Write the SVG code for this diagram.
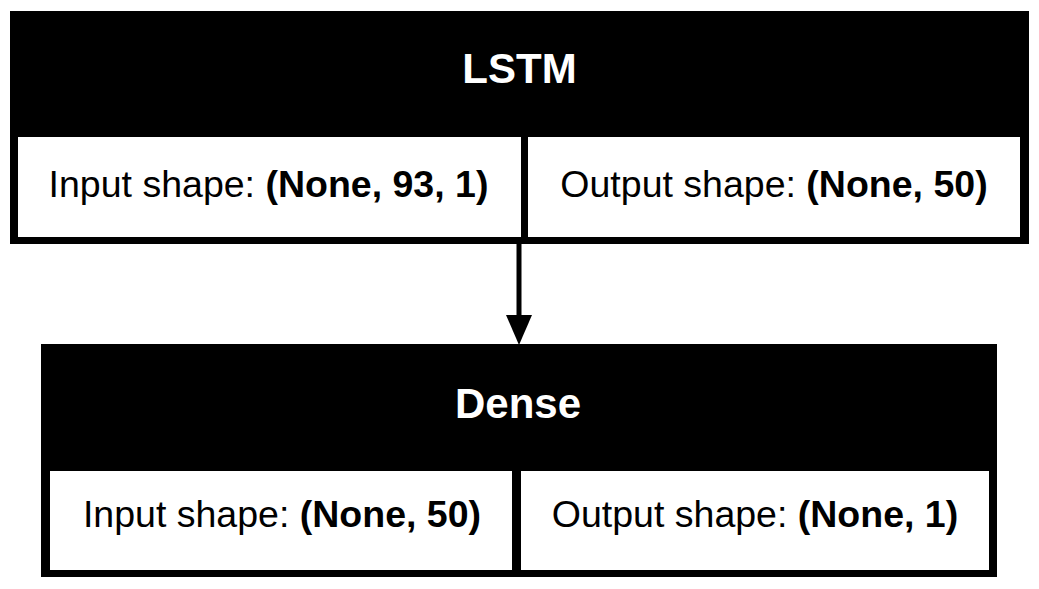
<svg xmlns="http://www.w3.org/2000/svg" width="1039" height="589" viewBox="0 0 1039 589">
<style>
.frame{fill:#000}
.cell{fill:#fff}
.title{font-family:"Liberation Sans",Arial,sans-serif;font-size:42px;font-weight:bold;fill:#fff;text-anchor:middle}
.lbl{font-family:"Liberation Sans",Arial,sans-serif;font-size:37.5px;fill:#000;text-anchor:middle}
.b{font-weight:bold}
.edge{stroke:#000;stroke-width:5;fill:none}
</style>
<rect width="1039" height="589" fill="#fff"/>
<g id="connectors">
<line class="edge" x1="519" y1="244" x2="519" y2="318"/>
<polygon points="506,315 532,315 519,345" fill="#000"/>
</g>
<g id="node-lstm">
<rect class="frame" x="10" y="11" width="1019" height="233"/>
<text class="title" x="519.5" y="83">LSTM</text>
<rect class="cell" x="18" y="137" width="503" height="100"/>
<rect class="cell" x="528" y="137" width="492" height="100"/>
<text class="lbl" x="268.5" y="197">Input shape: <tspan class="b">(None, 93, 1)</tspan></text>
<text class="lbl" x="774" y="197">Output shape: <tspan class="b">(None, 50)</tspan></text>
</g>
<g id="node-dense">
<rect class="frame" x="41" y="344" width="956" height="233"/>
<text class="title" x="518" y="418">Dense</text>
<rect class="cell" x="50" y="471" width="462" height="99"/>
<rect class="cell" x="521" y="471" width="468" height="99"/>
<text class="lbl" x="282" y="527">Input shape: <tspan class="b">(None, 50)</tspan></text>
<text class="lbl" x="755" y="527">Output shape: <tspan class="b">(None, 1)</tspan></text>
</g>
</svg>
